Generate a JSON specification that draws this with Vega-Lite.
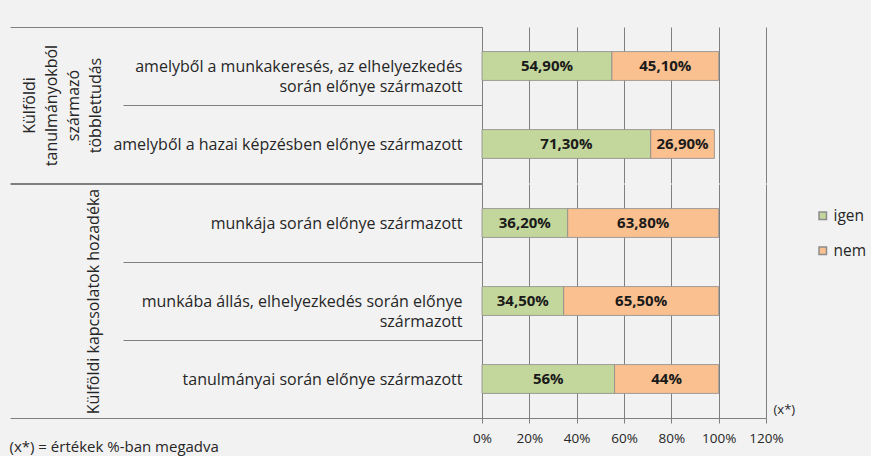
{
  "$schema": "https://vega.github.io/schema/vega-lite/v6.json",
  "background": "#f2f2f2",
  "padding": {"left": 9, "top": 19, "right": 15, "bottom": 3},
  "data": {
    "values": [
      {"group": "Külföldi\ntanulmányokból\nszármazó\ntöbblettudás", "category": "amelyből a munkakeresés, az elhelyezkedés\nsorán előnye származott", "answer": "igen", "value": 54.9},
      {"group": "Külföldi\ntanulmányokból\nszármazó\ntöbblettudás", "category": "amelyből a munkakeresés, az elhelyezkedés\nsorán előnye származott", "answer": "nem", "value": 45.1},
      {"group": "Külföldi\ntanulmányokból\nszármazó\ntöbblettudás", "category": "amelyből a hazai képzésben előnye származott", "answer": "igen", "value": 71.3},
      {"group": "Külföldi\ntanulmányokból\nszármazó\ntöbblettudás", "category": "amelyből a hazai képzésben előnye származott", "answer": "nem", "value": 26.9},
      {"group": "Külföldi kapcsolatok hozadéka", "category": "munkája során előnye származott", "answer": "igen", "value": 36.2},
      {"group": "Külföldi kapcsolatok hozadéka", "category": "munkája során előnye származott", "answer": "nem", "value": 63.8},
      {"group": "Külföldi kapcsolatok hozadéka", "category": "munkába állás, elhelyezkedés során előnye\nszármazott", "answer": "igen", "value": 34.5},
      {"group": "Külföldi kapcsolatok hozadéka", "category": "munkába állás, elhelyezkedés során előnye\nszármazott", "answer": "nem", "value": 65.5},
      {"group": "Külföldi kapcsolatok hozadéka", "category": "tanulmányai során előnye származott", "answer": "igen", "value": 56},
      {"group": "Külföldi kapcsolatok hozadéka", "category": "tanulmányai során előnye származott", "answer": "nem", "value": 44}
    ]
  },
  "title": {
    "text": "(x*) = értékek %-ban megadva",
    "orient": "bottom",
    "anchor": "start",
    "offset": -5,
    "font": "Open Sans",
    "fontSize": 15,
    "fontWeight": "normal",
    "color": "#262626"
  },
  "spacing": -12,
  "vconcat": [
    {
      "width": 284,
      "height": 156,
      "transform": [
        {"filter": "indexof(datum.group, 'tanulmányokból') >= 0"},
        {"stack": "value", "groupby": ["category"], "sort": [{"field": "answer"}], "as": ["v0", "v1"]},
        {"calculate": "(datum.v0 + datum.v1) / 2", "as": "mid"},
        {"calculate": "datum.value % 1 == 0 ? datum.value + '%' : replace(format(datum.value, '.2f'), '.', ',') + '%'", "as": "label"}
      ],
      "layer": [
        {
          "layer": [
            {
              "mark": {"type": "bar", "height": {"band": 0.37}, "stroke": "#8c8c8c", "strokeWidth": 0.8},
              "encoding": {
                "y": {"field": "category", "type": "nominal", "sort": null, "scale": {"paddingInner": 0, "paddingOuter": 0},
                  "axis": {"title": null, "orient": "left", "domain": true, "domainColor": "#7f7f7f", "tickBand": "extent", "tickSize": 359, "tickColor": "#7f7f7f", "labelPadding": -339, "labelAlign": "right", "labelBaseline": "middle", "labelLimit": 500, "labelOverlap": false, "labelFont": "Open Sans", "labelFontSize": 16, "labelColor": "#262626", "labelLineHeight": 20, "labelExpr": "split(datum.label, '\\n')", "grid": false}},
                "x": {"field": "v0", "type": "quantitative", "scale": {"domain": [0, 120], "nice": false},
                  "axis": {"title": null, "labels": false, "ticks": false, "domain": false, "grid": true, "gridColor": "#7f7f7f", "gridOpacity": 1, "values": [0, 20, 40, 60, 80, 100, 120]}},
                "x2": {"field": "v1"},
                "color": {"field": "answer", "type": "nominal", "scale": {"domain": ["igen", "nem"], "range": ["#c3d69b", "#fac08f"]},
                  "legend": {"title": null, "orient": "none", "legendX": 333, "legendY": 181, "padding": 0, "symbolType": "square", "symbolSize": 56, "labelFont": "Open Sans", "labelFontSize": 15.5, "labelColor": "#262626", "rowPadding": 18, "labelOffset": 3}}
              }
            },
            {
              "mark": {"type": "text", "font": "Open Sans", "fontWeight": "bold", "fontSize": 15, "color": "#1a1a1a"},
              "encoding": {
                "y": {"field": "category", "type": "nominal", "sort": null},
                "x": {"field": "mid", "type": "quantitative"},
                "text": {"field": "label"}
              }
            }
          ]
        },
        {
          "mark": {"type": "point", "opacity": 0},
          "encoding": {
            "y": {"field": "group", "type": "nominal", "scale": {"type": "band", "paddingInner": 0, "paddingOuter": 0},
              "axis": {"title": null, "orient": "left", "domain": false, "tickBand": "extent", "tickSize": 472, "tickColor": "#7f7f7f", "labelAngle": -90, "labelAlign": "center", "labelBaseline": "bottom", "labelPadding": -27, "labelLimit": 500, "labelOverlap": false, "labelFont": "Open Sans", "labelFontSize": 16, "labelColor": "#262626", "labelLineHeight": 22, "labelExpr": "split(datum.label, '\\n')", "grid": false}}
          }
        }
      ],
      "resolve": {"scale": {"y": "independent"}, "axis": {"y": "independent"}}
    },
    {
      "width": 284,
      "height": 234,
      "transform": [
        {"filter": "indexof(datum.group, 'kapcsolatok') >= 0"},
        {"stack": "value", "groupby": ["category"], "sort": [{"field": "answer"}], "as": ["v0", "v1"]},
        {"calculate": "(datum.v0 + datum.v1) / 2", "as": "mid"},
        {"calculate": "datum.value % 1 == 0 ? datum.value + '%' : replace(format(datum.value, '.2f'), '.', ',') + '%'", "as": "label"}
      ],
      "layer": [
        {
          "layer": [
            {
              "mark": {"type": "bar", "height": {"band": 0.37}, "stroke": "#8c8c8c", "strokeWidth": 0.8},
              "encoding": {
                "y": {"field": "category", "type": "nominal", "sort": null, "scale": {"paddingInner": 0, "paddingOuter": 0},
                  "axis": {"title": null, "orient": "left", "domain": true, "domainColor": "#7f7f7f", "tickBand": "extent", "tickSize": 359, "tickColor": "#7f7f7f", "labelPadding": -339, "labelAlign": "right", "labelBaseline": "middle", "labelLimit": 500, "labelOverlap": false, "labelFont": "Open Sans", "labelFontSize": 16, "labelColor": "#262626", "labelLineHeight": 20, "labelExpr": "split(datum.label, '\\n')", "grid": false}},
                "x": {"field": "v0", "type": "quantitative", "scale": {"domain": [0, 120], "nice": false},
                  "axis": {"title": "(x*)", "values": [0, 20, 40, 60, 80, 100, 120], "labelExpr": "datum.value + '%'", "labelOverlap": false, "labelFlush": false, "grid": true, "gridColor": "#7f7f7f", "gridOpacity": 1, "domainColor": "#7f7f7f", "tickColor": "#7f7f7f", "tickSize": 5, "labelPadding": 8, "labelFont": "Open Sans", "labelFontSize": 13.5, "labelColor": "#262626", "titleX": 291, "titleY": -2, "titleAlign": "left", "titleBaseline": "bottom", "titleFont": "Open Sans", "titleFontSize": 13, "titleFontWeight": "normal", "titleColor": "#262626"}},
                "x2": {"field": "v1"},
                "color": {"field": "answer", "type": "nominal", "scale": {"domain": ["igen", "nem"], "range": ["#c3d69b", "#fac08f"]},
                  "legend": {"title": null, "orient": "none", "legendX": 333, "legendY": 181, "padding": 0, "symbolType": "square", "symbolSize": 56, "labelFont": "Open Sans", "labelFontSize": 15.5, "labelColor": "#262626", "rowPadding": 18, "labelOffset": 3}}
              }
            },
            {
              "mark": {"type": "text", "font": "Open Sans", "fontWeight": "bold", "fontSize": 15, "color": "#1a1a1a"},
              "encoding": {
                "y": {"field": "category", "type": "nominal", "sort": null},
                "x": {"field": "mid", "type": "quantitative"},
                "text": {"field": "label"}
              }
            }
          ]
        },
        {
          "mark": {"type": "point", "opacity": 0},
          "encoding": {
            "y": {"field": "group", "type": "nominal", "scale": {"type": "band", "paddingInner": 0, "paddingOuter": 0},
              "axis": {"title": null, "orient": "left", "domain": false, "tickBand": "extent", "tickSize": 472, "tickColor": "#7f7f7f", "labelAngle": -90, "labelAlign": "center", "labelBaseline": "bottom", "labelPadding": -91, "labelLimit": 500, "labelOverlap": false, "labelFont": "Open Sans", "labelFontSize": 16, "labelColor": "#262626", "labelLineHeight": 22, "labelExpr": "split(datum.label, '\\n')", "grid": false}}
          }
        }
      ],
      "resolve": {"scale": {"y": "independent"}, "axis": {"y": "independent"}}
    }
  ],
  "resolve": {"scale": {"color": "shared"}, "legend": {"color": "shared"}},
  "config": {
    "view": {"stroke": null}
  }
}
